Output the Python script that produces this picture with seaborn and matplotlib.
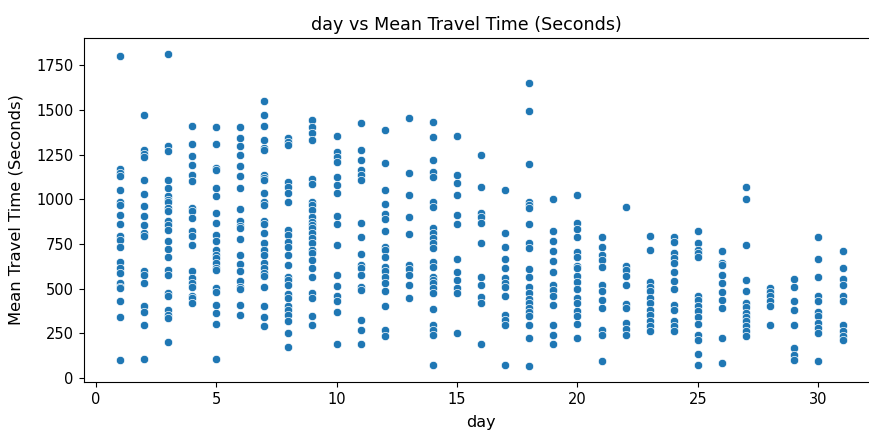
import numpy as np
import pandas as pd
import matplotlib
matplotlib.use("Agg")
import matplotlib.pyplot as plt
import seaborn as sns

# mean travel times (seconds), one list per day of month
day_values = {
    1: [1800, 1169, 1146, 1128, 1053, 982, 969, 913, 861, 795, 773, 735, 648, 614, 586, 530, 511, 502, 433, 338, 101],
    2: [1469, 1273, 1255, 1236, 1109, 1029, 960, 904, 857, 810, 795, 596, 577, 530, 403, 371, 297, 106],
    3: [1815, 1296, 1268, 1109, 1062, 1016, 997, 982, 950, 932, 876, 857, 825, 764, 721, 674, 605, 577, 474, 456, 381, 353, 334, 203],
    4: [1408, 1310, 1240, 1193, 1137, 1100, 950, 932, 894, 820, 795, 745, 601, 558, 530, 511, 459, 446, 418],
    5: [1404, 1310, 1174, 1161, 1062, 1016, 922, 866, 801, 764, 717, 689, 670, 642, 614, 605, 502, 483, 409, 362, 302, 106],
    6: [1404, 1342, 1296, 1249, 1187, 1128, 1062, 946, 876, 848, 838, 779, 689, 638, 596, 540, 511, 497, 409, 353],
    7: [1551, 1469, 1408, 1329, 1286, 1277, 1137, 1118, 1109, 1034, 982, 969, 876, 862, 810, 754, 717, 689, 642, 614, 586, 571, 508, 403, 338, 288],
    8: [1340, 1321, 1303, 1098, 1070, 1033, 986, 828, 800, 763, 735, 688, 632, 567, 549, 521, 470, 446, 403, 381, 353, 321, 251, 171],
    9: [1442, 1405, 1368, 1331, 1111, 1085, 986, 968, 940, 902, 874, 856, 837, 809, 781, 753, 716, 698, 660, 614, 567, 474, 446, 348, 297],
    10: [1353, 1266, 1238, 1210, 1126, 1079, 1033, 906, 861, 742, 577, 515, 456, 428, 366, 191],
    11: [1424, 1275, 1219, 1163, 1135, 1107, 869, 787, 692, 632, 614, 577, 511, 493, 325, 269, 191],
    12: [1387, 1204, 1051, 973, 916, 888, 822, 735, 716, 675, 623, 601, 567, 530, 489, 403, 266, 236],
    13: [1457, 1148, 1023, 902, 806, 632, 608, 577, 521, 446],
    14: [1433, 1349, 1219, 1154, 1126, 986, 958, 837, 809, 781, 753, 726, 651, 623, 567, 549, 530, 502, 474, 385, 297, 269, 241, 74],
    15: [1353, 1135, 1089, 1023, 912, 861, 664, 595, 549, 502, 474, 251],
    16: [1247, 1070, 925, 902, 869, 753, 564, 521, 452, 418, 191],
    17: [1051, 809, 735, 664, 614, 558, 530, 511, 456, 353, 325, 297, 74],
    18: [1653, 1495, 1200, 986, 968, 949, 860, 757, 726, 608, 562, 511, 474, 441, 418, 390, 366, 344, 297, 223, 65],
    19: [999, 824, 768, 711, 655, 595, 521, 493, 456, 409, 297, 241, 191],
    20: [1023, 869, 832, 787, 707, 675, 627, 614, 571, 539, 497, 446, 418, 377, 344, 303, 223],
    21: [787, 735, 688, 660, 619, 521, 484, 437, 390, 269, 241, 93],
    22: [955, 627, 604, 571, 521, 415, 390, 307, 273, 241],
    23: [794, 716, 539, 511, 489, 446, 418, 381, 353, 316, 288, 260],
    24: [791, 763, 701, 670, 645, 595, 545, 497, 409, 381, 316, 288, 260],
    25: [824, 753, 716, 698, 675, 459, 437, 403, 372, 338, 303, 241, 210, 135, 74],
    26: [711, 645, 632, 577, 530, 478, 437, 390, 223, 83],
    27: [1070, 999, 742, 549, 489, 418, 396, 362, 338, 316, 292, 260, 236],
    28: [502, 478, 456, 428, 403, 297],
    29: [552, 508, 433, 381, 297, 167, 130, 102],
    30: [791, 664, 567, 459, 428, 366, 344, 307, 279, 251, 93],
    31: [711, 614, 552, 521, 456, 428, 297, 260, 232, 210],
}

days = []
times = []
for d, vals in day_values.items():
    days.extend([d] * len(vals))
    times.extend(vals)

df = pd.DataFrame({"day": days, "Mean Travel Time (Seconds)": times})

fig = plt.figure(figsize=(8.7, 4.32), dpi=100)
ax = fig.add_axes([0.096, 0.116, 0.914, 0.796])

sns.scatterplot(data=df, x="day", y="Mean Travel Time (Seconds)", ax=ax)
ax.set_title("day vs Mean Travel Time (Seconds)", x=0.482, fontsize=12.6)
ax.set_xlabel("day", fontsize=11.5, labelpad=6)
ax.set_ylabel("Mean Travel Time (Seconds)", fontsize=11.8, labelpad=9)
ax.tick_params(labelsize=10.5)

fig.savefig("out.png", dpi=100)
